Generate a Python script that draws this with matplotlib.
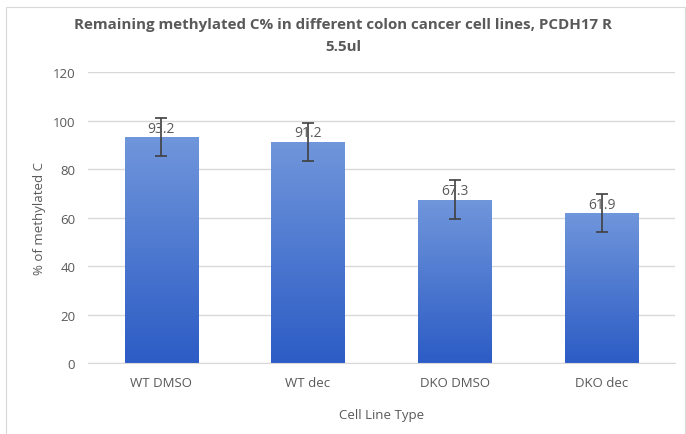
import numpy as np
import matplotlib
matplotlib.use("Agg")
import matplotlib.pyplot as plt
from matplotlib.colors import LinearSegmentedColormap
from matplotlib.patches import Rectangle

categories = ["WT DMSO", "WT dec", "DKO DMSO", "DKO dec"]
values = [93.2, 91.2, 67.3, 61.9]
errors = [8, 8, 8, 8]
labels = ["93.2", "91.2", "67.3", "61.9"]

plt.rcParams['font.family'] = ['Open Sans', 'DejaVu Sans']
grey = "#595959"

fig = plt.figure(figsize=(6.86, 4.35), dpi=100)
fig.patches.append(Rectangle((0.009, 0.0), 0.99, 0.982, transform=fig.transFigure,
                             fill=False, edgecolor="#d9d9d9", linewidth=0.8))
ax = fig.add_axes([0.128, 0.163, 0.856, 0.669])

x = np.arange(len(categories))
width = 0.5
cmap = LinearSegmentedColormap.from_list("bar", ["#2c5cc5", "#7096db"])
grad = np.linspace(0, 1, 256).reshape(-1, 1)
bars = ax.bar(x, values, width=width, color="none", zorder=2)
for b in bars:
    im = ax.imshow(grad, cmap=cmap, aspect="auto", origin="lower",
                   extent=[b.get_x(), b.get_x() + b.get_width(), 0, b.get_height()],
                   zorder=2)
    im.set_clip_path(b)

ax.errorbar(x, values, yerr=errors, fmt="none", ecolor="#404040", elinewidth=1.2,
            capsize=4, capthick=1.2, zorder=3)
for xi, v, t in zip(x, values, labels):
    ax.text(xi, v + 0.6, t, ha="center", va="bottom", fontsize=10, color=grey, zorder=4)

ax.set_xlim(-0.5, len(categories) - 0.5)
ax.set_ylim(0, 120)
ax.set_yticks(range(0, 121, 20))
ax.set_xticks(x)
ax.set_xticklabels(categories)
ax.tick_params(axis="both", length=0, colors=grey, labelsize=9.5, pad=9)
ax.yaxis.grid(True, color="#d9d9d9", linewidth=1)
ax.set_axisbelow(True)
for s in ["top", "right", "left"]:
    ax.spines[s].set_visible(False)
ax.spines["bottom"].set_color("#d9d9d9")

ax.set_ylabel("% of methylated C", color=grey, fontsize=9.5, labelpad=5)
ax.set_xlabel("Cell Line Type", color=grey, fontsize=9.5, labelpad=14)
fig.text(0.5, 0.917, "Remaining methylated C% in different colon cancer cell lines, PCDH17 R\n5.5ul",
         ha="center", va="center", fontsize=10.9, fontweight="bold", color=grey,
         linespacing=1.75)

fig.savefig("out.png", dpi=100)
